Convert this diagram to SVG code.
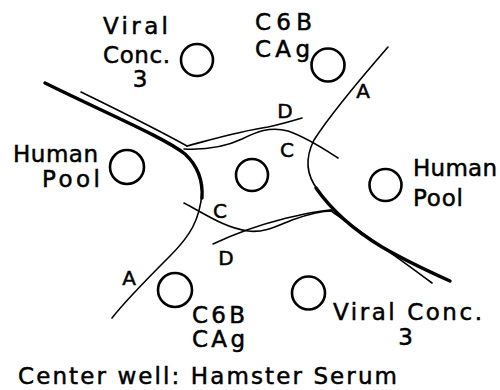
<svg xmlns="http://www.w3.org/2000/svg" width="500" height="390" viewBox="0 0 500 390">
<style>
.t{font-family:"DejaVu Sans","Liberation Sans",sans-serif;font-size:23px;fill:#000;stroke:#000;stroke-width:0.5}
.s{font-family:"DejaVu Sans","Liberation Sans",sans-serif;font-size:20px;fill:#000;stroke:#000;stroke-width:0.5}
.w{fill:none;stroke:#000;stroke-width:2.6}
.thin{fill:none;stroke:#000;stroke-width:1.6;stroke-linecap:round}
.thick{fill:none;stroke:#000;stroke-width:3.4;stroke-linecap:round}
</style>
<rect width="500" height="390" fill="#fff"/>
<g id="connectors">
<path class="thick" d="M45,83 C110,115 165,138 185,154 C198,166 203,182 202,198"/>
<path class="thin" d="M202,192 C200,220 190,236 170,256 C150,276 126,300 112,318"/>
<path class="thin" d="M81,92 C120,111 160,131 187,146"/>
<path class="thin" d="M187,146 C210,140 240,131 268,127 C282,124 292,121 302,118"/>
<path class="thin" d="M184,149 C205,150 225,147 242,139 C256,132 270,126 288,131 C308,138 324,149 338,158"/>
<path class="thin" d="M388,47 C355,85 330,115 314,140 C305,158 306,175 318,190"/>
<path class="thick" d="M316,188 C330,208 352,229 382,247 C406,261 430,272 450,281"/>
<path class="thin" d="M330,210 C352,226 395,255 432,283"/>
<path class="thin" d="M213,244 C230,236 255,226 283,219 C300,215 315,211 332,210"/>
<path class="thin" d="M184,203 C205,214 225,228 248,231 C264,233 277,226 292,220 C306,215 320,211 332,211"/>
</g>
<g id="well-center"><circle class="w" cx="252" cy="175" r="16"/></g>
<g id="well-viral-top">
<circle class="w" cx="197" cy="60" r="16"/>
<text class="t" x="103" y="34" textLength="65" lengthAdjust="spacing">Viral</text>
<text class="t" x="103" y="63" textLength="67" lengthAdjust="spacing">Conc.</text>
<text class="t" x="140" y="87" text-anchor="middle">3</text>
</g>
<g id="well-c6b-top">
<circle class="w" cx="328" cy="65" r="16.5"/>
<text class="t" x="255" y="30" textLength="57" lengthAdjust="spacing">C6B</text>
<text class="t" x="255" y="57" textLength="55" lengthAdjust="spacing">CAg</text>
</g>
<g id="well-human-left">
<circle class="w" cx="127" cy="167" r="17"/>
<text class="t" x="13" y="162" textLength="85" lengthAdjust="spacing">Human</text>
<text class="t" x="42" y="187" textLength="58" lengthAdjust="spacing">Pool</text>
</g>
<g id="well-human-right">
<circle class="w" cx="385.5" cy="185" r="16"/>
<text class="t" x="413" y="176" textLength="84" lengthAdjust="spacing">Human</text>
<text class="t" x="413" y="206" textLength="50" lengthAdjust="spacing">Pool</text>
</g>
<g id="well-c6b-bottom">
<circle class="w" cx="175" cy="290" r="17"/>
<text class="t" x="192" y="323" textLength="53" lengthAdjust="spacing">C6B</text>
<text class="t" x="192" y="347" textLength="53" lengthAdjust="spacing">CAg</text>
</g>
<g id="well-viral-bottom">
<circle class="w" cx="308.5" cy="293" r="16.5"/>
<text class="t" x="333" y="320" textLength="149" lengthAdjust="spacing">Viral Conc.</text>
<text class="t" x="405.5" y="345" text-anchor="middle">3</text>
</g>
<g id="labels">
<text class="s" x="285" y="118" text-anchor="middle">D</text>
<text class="s" x="287" y="157" text-anchor="middle">C</text>
<text class="s" x="220" y="218" text-anchor="middle">C</text>
<text class="s" x="226" y="265" text-anchor="middle">D</text>
<text class="s" x="363" y="98" text-anchor="middle">A</text>
<text class="s" x="129" y="285" text-anchor="middle">A</text>
</g>
<text class="t" x="18" y="384" textLength="379" lengthAdjust="spacing">Center well: Hamster Serum</text>
</svg>
